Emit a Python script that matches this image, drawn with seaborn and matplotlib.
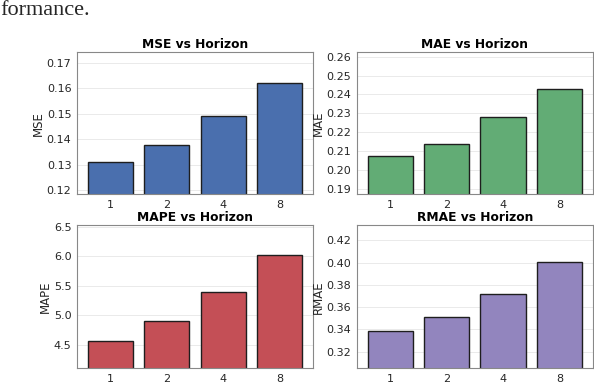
import matplotlib
matplotlib.use("Agg")
import matplotlib.pyplot as plt
import seaborn as sns
import pandas as pd

# horizons and per-metric values
horizons = ["1", "2", "4", "8"]
mse = [0.131, 0.138, 0.149, 0.162]
mae = [0.2073, 0.2138, 0.228, 0.2428]
mape = [4.567, 4.90, 5.40, 6.02]
rmae = [0.3383, 0.3513, 0.3717, 0.401]

metrics = ["MSE", "MAE", "MAPE", "RMAE"]
values = [mse, mae, mape, rmae]
colors = ["#4a6fae", "#62ac75", "#c44f56", "#9285be"]
ylims = [(0.1184, 0.1743), (0.187, 0.2625), (4.11, 6.52), (0.3054, 0.4334)]
yticks = [
    [0.12, 0.13, 0.14, 0.15, 0.16, 0.17],
    [0.19, 0.20, 0.21, 0.22, 0.23, 0.24, 0.25, 0.26],
    [4.5, 5.0, 5.5, 6.0, 6.5],
    [0.32, 0.34, 0.36, 0.38, 0.40, 0.42],
]
ytick_fmt = ["{:.2f}", "{:.2f}", "{:.1f}", "{:.2f}"]


def main():
    sns.set_style("whitegrid")
    plt.rcParams["font.family"] = ["DejaVu Sans"]

    fig, axes = plt.subplots(2, 2, figsize=(5.94, 3.84), dpi=100)
    fig.subplots_adjust(left=0.1296, right=0.998, top=0.8646, bottom=0.0417,
                        wspace=0.186, hspace=0.2175)

    for ax, name, vals, col, lim, ticks, fmt in zip(
            axes.flat, metrics, values, colors, ylims, yticks, ytick_fmt):
        df = pd.DataFrame({"Horizon": horizons, name: vals})
        sns.barplot(data=df, x="Horizon", y=name, color=col, saturation=1,
                    edgecolor="#1e1e1e", linewidth=1.0, width=0.8, ax=ax)
        ax.set_xlim(-0.59, 3.59)
        ax.set_ylim(*lim)
        ax.set_yticks(ticks)
        ax.set_yticklabels([fmt.format(t) for t in ticks])
        ax.set_title(f"{name} vs Horizon", fontsize=8.8, fontweight="bold",
                     pad=3, color="black")
        ax.set_xlabel("")
        ax.set_ylabel(name, fontsize=8.5, labelpad=1)
        ax.tick_params(axis="both", labelsize=8, pad=1.5, length=2.5,
                       width=0.6, color="#888888")
        ax.grid(axis="x", visible=False)
        ax.grid(axis="y", linestyle="-", linewidth=0.6, color="#e6e6e6")
        ax.set_axisbelow(True)
        for s in ax.spines.values():
            s.set_edgecolor("#888888")
            s.set_linewidth(0.8)

    # caption fragment from the page above the figure
    fig.text(0.0, 1 - 15 / 384, "formance.", fontsize=16,
             family=["Liberation Serif", "DejaVu Serif"], va="baseline", ha="left")

    fig.savefig("out.png", dpi=100)


if __name__ == "__main__":
    main()
